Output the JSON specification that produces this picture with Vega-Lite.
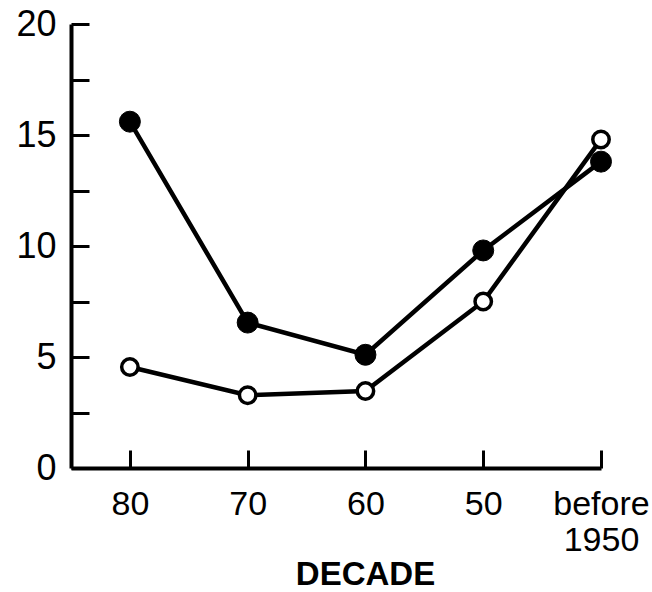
{
  "$schema": "https://vega.github.io/schema/vega-lite/v6.json",
  "width": 530,
  "height": 444,
  "autosize": {"type": "none"},
  "padding": {"left": 71, "top": 24, "right": 51, "bottom": 124},
  "background": "white",
  "config": {
    "view": {"stroke": null},
    "font": "Liberation Sans",
    "axis": {"grid": false, "domainColor": "black", "tickColor": "black", "labelColor": "black", "titleColor": "black"}
  },
  "data": {
    "values": [
      {"decade": "80", "idx": 0, "series": "filled", "value": 15.6},
      {"decade": "70", "idx": 1, "series": "filled", "value": 6.55},
      {"decade": "60", "idx": 2, "series": "filled", "value": 5.1},
      {"decade": "50", "idx": 3, "series": "filled", "value": 9.8},
      {"decade": "before 1950", "idx": 4, "series": "filled", "value": 13.8},
      {"decade": "80", "idx": 0, "series": "open", "value": 4.55},
      {"decade": "70", "idx": 1, "series": "open", "value": 3.28},
      {"decade": "60", "idx": 2, "series": "open", "value": 3.47},
      {"decade": "50", "idx": 3, "series": "open", "value": 7.5},
      {"decade": "before 1950", "idx": 4, "series": "open", "value": 14.8}
    ]
  },
  "encoding": {
    "x": {
      "field": "idx",
      "type": "quantitative",
      "scale": {"domain": [-0.5, 4], "nice": false, "zero": false},
      "axis": {
        "values": [0, 1, 2, 3, 4],
        "labelExpr": "datum.value == 0 ? '80' : datum.value == 1 ? '70' : datum.value == 2 ? '60' : datum.value == 3 ? '50' : ['before', '1950']",
        "domainWidth": 4,
        "tickWidth": 3,
        "tickSize": -18,
        "labelPadding": 37,
        "labelFontSize": 34,
        "labelLineHeight": 36,
        "labelBaseline": "top",
        "labelFlush": false,
        "labelOverlap": false,
        "title": "DECADE",
        "titleFontSize": 33,
        "titleFontWeight": "bold",
        "titleX": 294,
        "titleY": 90,
        "titleBaseline": "top"
      }
    },
    "y": {
      "field": "value",
      "type": "quantitative",
      "scale": {"domain": [0, 20], "nice": false},
      "axis": {
        "values": [0, 2.5, 5, 7.5, 10, 12.5, 15, 17.5, 20],
        "labelExpr": "datum.value % 5 == 0 ? datum.label : ''",
        "domainWidth": 4,
        "tickWidth": 3,
        "tickSize": -18,
        "labelPadding": 33,
        "labelFontSize": 36,
        "labelFlush": false,
        "labelOverlap": false,
        "title": null
      }
    },
    "detail": {"field": "series", "type": "nominal"}
  },
  "layer": [
    {
      "mark": {"type": "line", "color": "black", "strokeWidth": 4.5}
    },
    {
      "transform": [{"filter": "datum.series == 'filled'"}],
      "mark": {"type": "point", "shape": "circle", "filled": true, "fill": "black", "stroke": "black", "strokeWidth": 1, "size": 440, "opacity": 1}
    },
    {
      "transform": [{"filter": "datum.series == 'open'"}],
      "mark": {"type": "point", "shape": "circle", "filled": true, "fill": "white", "stroke": "black", "strokeWidth": 3.5, "size": 270, "opacity": 1}
    }
  ]
}
